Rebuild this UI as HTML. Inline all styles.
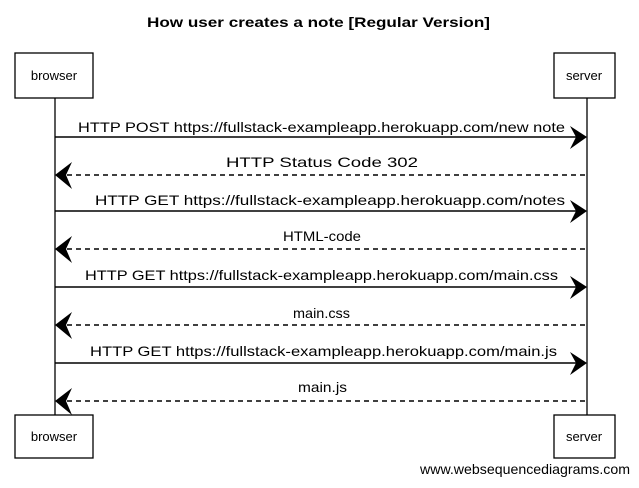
<!DOCTYPE html>
<html><head><meta charset="utf-8"><style>
body{margin:0;background:#fff;width:639px;height:483px;overflow:hidden}
text{font-family:"Liberation Sans",sans-serif;fill:#000}
</style></head><body>
<svg width="639" height="483" viewBox="0 0 639 483" xmlns="http://www.w3.org/2000/svg">
<text x="147" y="27" font-size="14" font-weight="bold" textLength="343" lengthAdjust="spacingAndGlyphs">How user creates a note [Regular Version]</text>
<g stroke="#000" stroke-width="1.3" fill="#fff">
<line x1="55" y1="98" x2="55" y2="415"/>
<line x1="587" y1="98" x2="587" y2="415"/>
<rect x="15" y="53" width="78" height="45"/>
<rect x="554" y="53" width="61" height="45"/>
<rect x="15" y="415" width="78" height="43"/>
<rect x="554" y="415" width="61" height="43"/>
</g>
<g font-size="13" text-anchor="middle">
<text x="54" y="80">browser</text><text x="584" y="80">server</text>
<text x="54" y="441">browser</text><text x="584" y="441">server</text>
</g>
<g stroke="#000" stroke-width="1.5" fill="none">
<line x1="55" y1="137" x2="585" y2="137"/>
<line x1="58" y1="175" x2="587" y2="175" stroke-dasharray="5,4"/>
<line x1="55" y1="211" x2="585" y2="211"/>
<line x1="58" y1="249" x2="587" y2="249" stroke-dasharray="5,4"/>
<line x1="55" y1="287" x2="585" y2="287"/>
<line x1="58" y1="325" x2="587" y2="325" stroke-dasharray="5,4"/>
<line x1="55" y1="363" x2="585" y2="363"/>
<line x1="58" y1="401" x2="587" y2="401" stroke-dasharray="5,4"/>
</g>
<g fill="#000">
<path d="M587 137 L570 126 L576 137 L570 149Z"/>
<path d="M55 175 L72 162 L66 175 L72 189Z"/>
<path d="M587 211 L570 200 L576 211 L570 223Z"/>
<path d="M55 249 L72 236 L66 249 L72 263Z"/>
<path d="M587 287 L570 276 L576 287 L570 299Z"/>
<path d="M55 325 L72 312 L66 325 L72 339Z"/>
<path d="M587 363 L570 352 L576 363 L570 375Z"/>
<path d="M55 401 L72 388 L66 401 L72 415Z"/>
</g>
<g font-size="14" lengthAdjust="spacingAndGlyphs">
<text x="78" y="132" textLength="487" lengthAdjust="spacingAndGlyphs">HTTP POST https://fullstack-exampleapp.herokuapp.com/new note</text>
<text x="226" y="167" textLength="192" lengthAdjust="spacingAndGlyphs">HTTP Status Code 302</text>
<text x="95" y="205" textLength="470" lengthAdjust="spacingAndGlyphs">HTTP GET https://fullstack-exampleapp.herokuapp.com/notes</text>
<text x="283" y="241" textLength="78" lengthAdjust="spacingAndGlyphs">HTML-code</text>
<text x="85" y="280" textLength="473" lengthAdjust="spacingAndGlyphs">HTTP GET https://fullstack-exampleapp.herokuapp.com/main.css</text>
<text x="293" y="318" textLength="57" lengthAdjust="spacingAndGlyphs">main.css</text>
<text x="90" y="356" textLength="467" lengthAdjust="spacingAndGlyphs">HTTP GET https://fullstack-exampleapp.herokuapp.com/main.js</text>
<text x="298" y="392" textLength="49" lengthAdjust="spacingAndGlyphs">main.js</text>
</g>
<text x="420" y="474" font-size="14" textLength="210" lengthAdjust="spacingAndGlyphs">www.websequencediagrams.com</text>
</svg>
</body></html>
